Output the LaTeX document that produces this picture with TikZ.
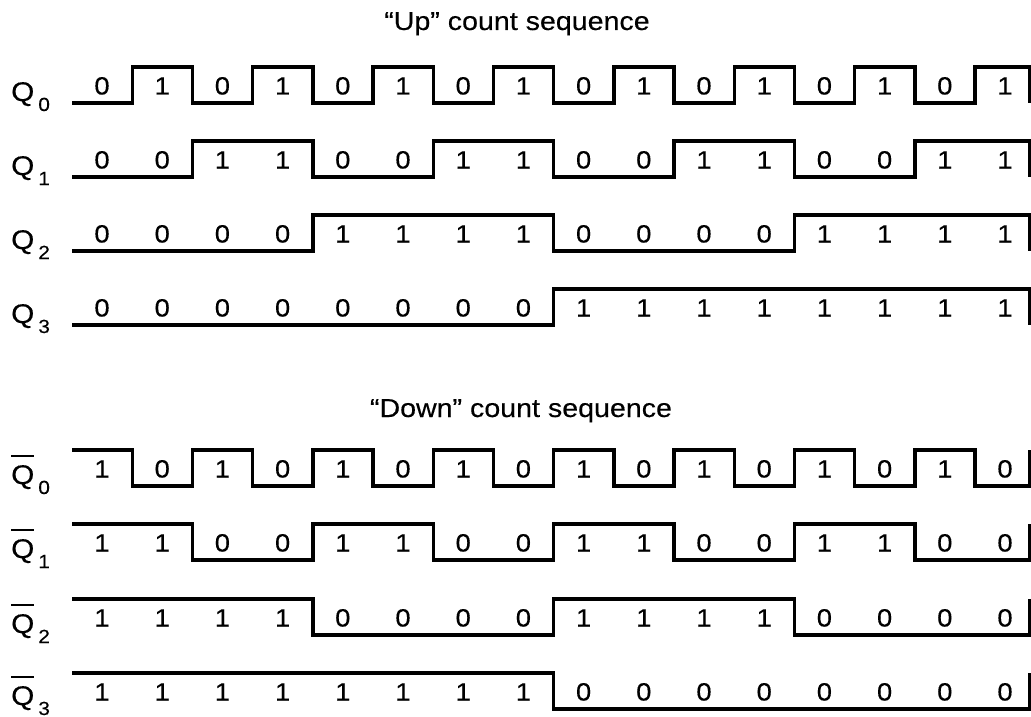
\documentclass[tikz,border=0pt]{standalone}
\usepackage{fontspec}
\setmainfont{Liberation Sans}[FakeStretch=1.1, FakeBold=0.3]
\newlength\qwd
\newcommand{\qsub}[1]{\hspace{4pt}\raisebox{-10pt}{\fontsize{19}{19}\selectfont #1}}
\newcommand{\qbar}{\settowidth{\qwd}{Q}\rlap{\rule[27pt]{\qwd}{2pt}}Q}

\begin{document}
\begin{tikzpicture}[x=1pt, y=-1pt,
    wave/.style={line width=3.4pt, line join=miter},
    bit/.style={font=\fontsize{25}{25}\selectfont, anchor=base, inner sep=0pt},
    sig/.style={font=\fontsize{27}{27}\selectfont, anchor=base west, inner sep=0pt},
    title/.style={font=\fontsize{26}{26}\selectfont, anchor=base, inner sep=0pt},
  ]
  \useasboundingbox (0,0) rectangle (1031,717);

  % Up count
  \node[title] (uptitle) at (517,30) {“Up” count sequence};

  % Q0
  \node[sig] (q0) at (11,101) {Q\qsub{0}};
  \draw[wave] (72,103) \foreach \b [count=\i from 0] in {0,1,0,1,0,1,0,1,0,1,0,1,0,1,0,1}
    {-| ({72+60.2*\i},{103-36*\b})} -- ++(54.5,0) -- ++(0,36);
  \foreach \b [count=\i from 0] in {0,1,0,1,0,1,0,1,0,1,0,1,0,1,0,1}
    \node[bit] (q0b\i) at ({102+60.2*\i},94.5) {\b};

  % Q1
  \node[sig] (q1) at (11,175) {Q\qsub{1}};
  \draw[wave] (72,177) \foreach \b [count=\i from 0] in {0,0,1,1,0,0,1,1,0,0,1,1,0,0,1,1}
    {-| ({72+60.2*\i},{177-36*\b})} -- ++(54.5,0) -- ++(0,36);
  \foreach \b [count=\i from 0] in {0,0,1,1,0,0,1,1,0,0,1,1,0,0,1,1}
    \node[bit] (q1b\i) at ({102+60.2*\i},168.5) {\b};

  % Q2
  \node[sig] (q2) at (11,249) {Q\qsub{2}};
  \draw[wave] (72,251) \foreach \b [count=\i from 0] in {0,0,0,0,1,1,1,1,0,0,0,0,1,1,1,1}
    {-| ({72+60.2*\i},{251-36*\b})} -- ++(54.5,0) -- ++(0,36);
  \foreach \b [count=\i from 0] in {0,0,0,0,1,1,1,1,0,0,0,0,1,1,1,1}
    \node[bit] (q2b\i) at ({102+60.2*\i},242.5) {\b};

  % Q3
  \node[sig] (q3) at (11,323) {Q\qsub{3}};
  \draw[wave] (72,325) \foreach \b [count=\i from 0] in {0,0,0,0,0,0,0,0,1,1,1,1,1,1,1,1}
    {-| ({72+60.2*\i},{325-36*\b})} -- ++(54.5,0) -- ++(0,36);
  \foreach \b [count=\i from 0] in {0,0,0,0,0,0,0,0,1,1,1,1,1,1,1,1}
    \node[bit] (q3b\i) at ({102+60.2*\i},316.5) {\b};

  % Down count
  \node[title] (dntitle) at (521,417) {“Down” count sequence};

  % Q0 bar
  \node[sig] (nq0) at (11,484) {\qbar\qsub{0}};
  \draw[wave] (72,450) \foreach \b [count=\i from 0] in {1,0,1,0,1,0,1,0,1,0,1,0,1,0,1,0}
    {-| ({72+60.2*\i},{486-36*\b})} -- ++(54.5,0) -- ++(0,-36);
  \foreach \b [count=\i from 0] in {1,0,1,0,1,0,1,0,1,0,1,0,1,0,1,0}
    \node[bit] (nq0b\i) at ({102+60.2*\i},477.5) {\b};

  % Q1 bar
  \node[sig] (nq1) at (11,558) {\qbar\qsub{1}};
  \draw[wave] (72,524) \foreach \b [count=\i from 0] in {1,1,0,0,1,1,0,0,1,1,0,0,1,1,0,0}
    {-| ({72+60.2*\i},{560-36*\b})} -- ++(54.5,0) -- ++(0,-36);
  \foreach \b [count=\i from 0] in {1,1,0,0,1,1,0,0,1,1,0,0,1,1,0,0}
    \node[bit] (nq1b\i) at ({102+60.2*\i},551.5) {\b};

  % Q2 bar
  \node[sig] (nq2) at (11,633) {\qbar\qsub{2}};
  \draw[wave] (72,599) \foreach \b [count=\i from 0] in {1,1,1,1,0,0,0,0,1,1,1,1,0,0,0,0}
    {-| ({72+60.2*\i},{635-36*\b})} -- ++(54.5,0) -- ++(0,-36);
  \foreach \b [count=\i from 0] in {1,1,1,1,0,0,0,0,1,1,1,1,0,0,0,0}
    \node[bit] (nq2b\i) at ({102+60.2*\i},626.5) {\b};

  % Q3 bar
  \node[sig] (nq3) at (11,705) {\qbar\qsub{3}};
  \draw[wave] (72,673) \foreach \b [count=\i from 0] in {1,1,1,1,1,1,1,1,0,0,0,0,0,0,0,0}
    {-| ({72+60.2*\i},{709-36*\b})} -- ++(54.5,0) -- ++(0,-36);
  \foreach \b [count=\i from 0] in {1,1,1,1,1,1,1,1,0,0,0,0,0,0,0,0}
    \node[bit] (nq3b\i) at ({102+60.2*\i},700.5) {\b};
\end{tikzpicture}
\end{document}
